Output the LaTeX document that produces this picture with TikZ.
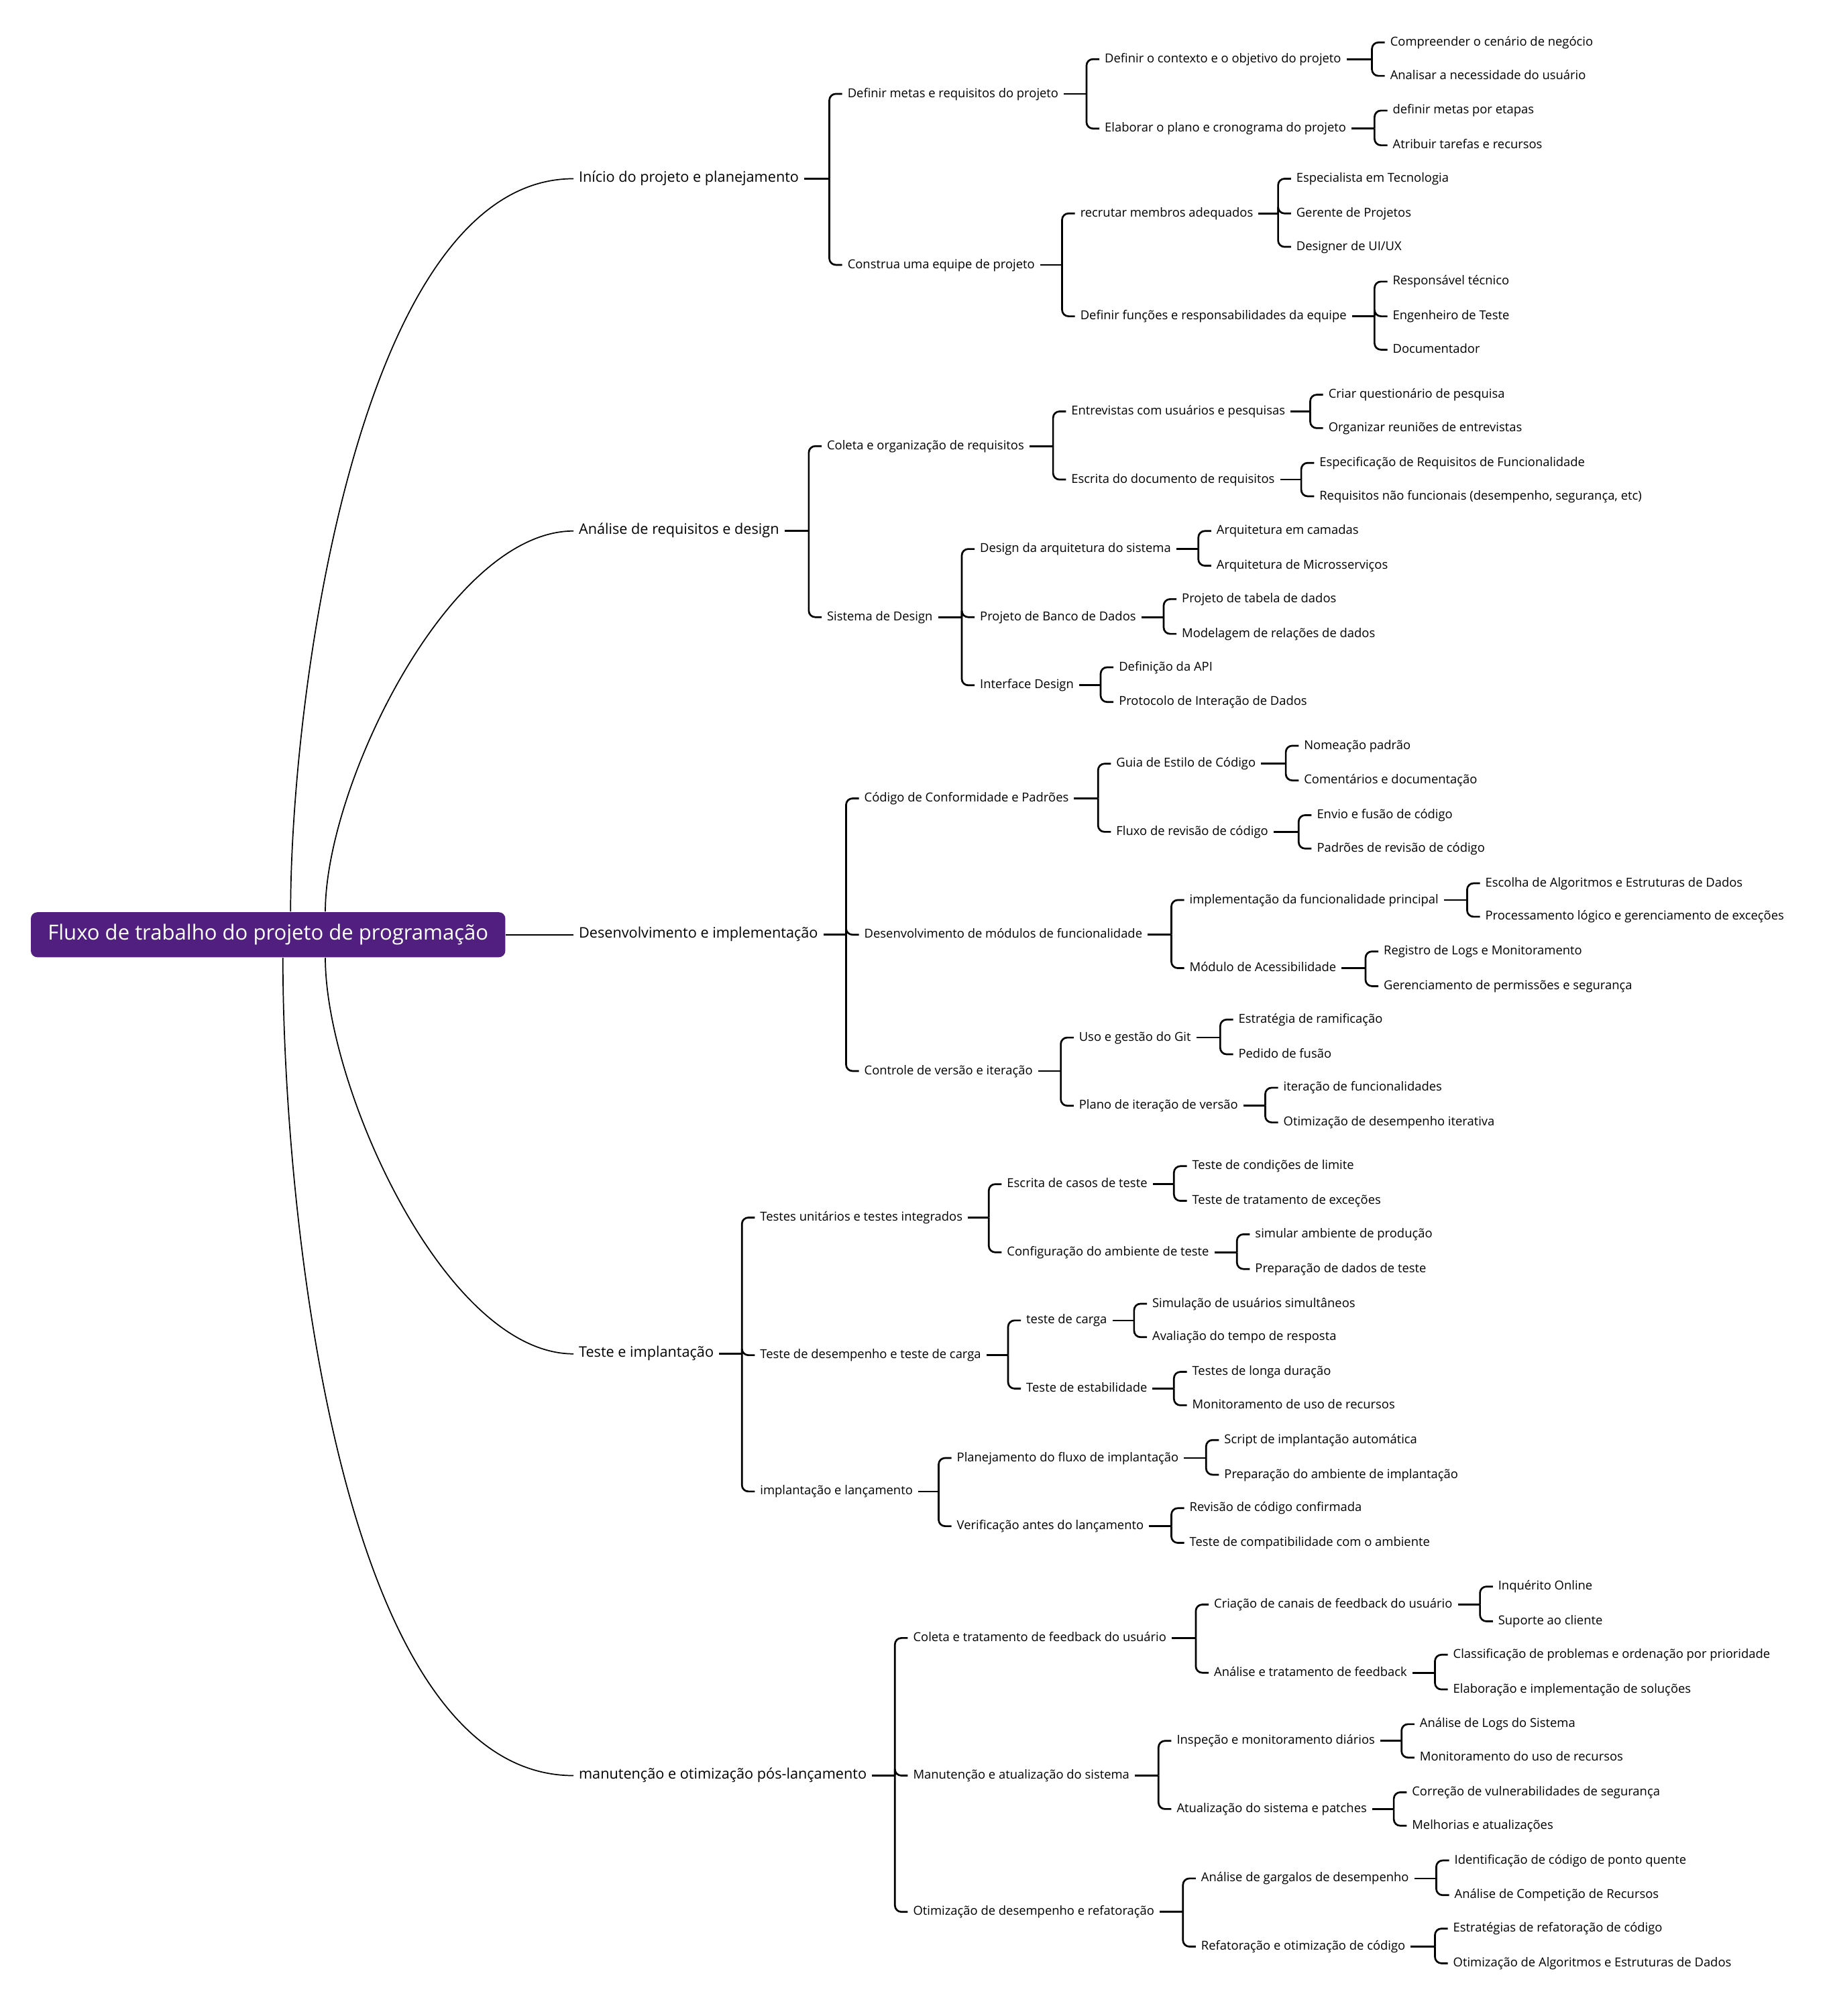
\documentclass[tikz,border=0pt]{standalone}
\usepackage{fontspec}
\setmainfont{Open Sans}
\usepackage{tikz}
\usetikzlibrary{calc}
\definecolor{rootpurple}{RGB}{81,31,128}
\tikzset{
  rootbox/.style={
    rectangle,
    fill=rootpurple,
    text=white,
    rounded corners=5pt,
    minimum width=369pt,
    minimum height=35pt,
    inner sep=0pt,
    font=\fontsize{16.2}{19}\selectfont
  },
  topic/.style={
    anchor=west,
    xshift=-4pt,
    inner xsep=4pt,
    inner ysep=1pt,
    text height=0.75em,
    text depth=0.22em,
    font=\fontsize{11.3}{13}\selectfont
  },
  item/.style={
    topic,
    font=\fontsize{9.6}{11}\selectfont
  },
  trunk/.style={
    line width=0.9pt,
    black
  },
  bracket/.style={
    line width=1.4pt,
    black
  }
}
% fork from a parent to its children; the column sits just left of the first child
\newcommand{\branch}[3]{%
  \coordinate (#1-fork) at ($(#2.west |- #1.east)+(-10pt,0)$);
  \draw[bracket] (#1.east) -- (#1-fork);
  \foreach \kid in {#3}
    \draw[bracket, rounded corners=5pt] (#1-fork) |- (\kid.west);
}

\begin{document}
\begin{tikzpicture}[x=1pt,y=-1pt]
  \useasboundingbox (0,0) rectangle (1422,1568);

  % main topics
  \node[topic] (A) at (450,139) {Início do projeto e planejamento};
  \node[topic] (B) at (450,413) {Análise de requisitos e design};
  \node[topic] (C) at (450,727) {Desenvolvimento e implementação};
  \node[topic] (D) at (450,1053) {Teste e implantação};
  \node[topic] (E) at (450,1381) {manutenção e otimização pós-lançamento};

  % curves out of the root (drawn first, the root box covers their ends)
  \coordinate (R-top) at (208.5,709);
  \coordinate (R-bot) at (208.5,745);
  \draw[trunk] ([xshift=17.5pt]R-top) .. controls +(0,-167) and +(-167,0) .. (A.west);
  \draw[trunk] ([xshift=44.5pt]R-top) .. controls +(0,-97) and +(-97,0) .. (B.west);
  \draw[trunk] ([xshift=44.5pt]R-bot) .. controls +(0,100) and +(-100,0) .. (D.west);
  \draw[trunk] ([xshift=11.5pt]R-bot) .. controls +(0,185) and +(-185,0) .. (E.west);

  \node[rootbox] (R) at (208.5,727) {Fluxo de trabalho do projeto de programação};
  \draw[trunk] (R.east) -- (C.west);

  % Inicio do projeto
  \node[item] (A-1) at (659,73) {Definir metas e requisitos do projeto};
  \node[item] (A-1-1) at (859,46) {Definir o contexto e o objetivo do projeto};
  \node[item] (A-1-1-a) at (1081,33) {Compreender o cenário de negócio};
  \node[item] (A-1-1-b) at (1081,59) {Analisar a necessidade do usuário};
  \node[item] (A-1-2) at (859,100) {Elaborar o plano e cronograma do projeto};
  \node[item] (A-1-2-a) at (1083,86) {definir metas por etapas};
  \node[item] (A-1-2-b) at (1083,113) {Atribuir tarefas e recursos};
  \node[item] (A-2) at (659,206) {Construa uma equipe de projeto};
  \node[item] (A-2-1) at (840,166) {recrutar membros adequados};
  \node[item] (A-2-1-a) at (1008,139) {Especialista em Tecnologia};
  \node[item] (A-2-1-b) at (1008,166) {Gerente de Projetos};
  \node[item] (A-2-1-c) at (1008,192) {Designer de UI/UX};
  \node[item] (A-2-2) at (840,246) {Definir funções e responsabilidades da equipe};
  \node[item] (A-2-2-a) at (1083,219) {Responsável técnico};
  \node[item] (A-2-2-b) at (1083,246) {Engenheiro de Teste};
  \node[item] (A-2-2-c) at (1083,272) {Documentador};
  \branch{A}{A-1}{A-1,A-2}
  \branch{A-1}{A-1-1}{A-1-1,A-1-2}
  \branch{A-1-1}{A-1-1-a}{A-1-1-a,A-1-1-b}
  \branch{A-1-2}{A-1-2-a}{A-1-2-a,A-1-2-b}
  \branch{A-2}{A-2-1}{A-2-1,A-2-2}
  \branch{A-2-1}{A-2-1-a}{A-2-1-a,A-2-1-b,A-2-1-c}
  \branch{A-2-2}{A-2-2-a}{A-2-2-a,A-2-2-b,A-2-2-c}

  % Analise e design
  \node[item] (B-1) at (643,347) {Coleta e organização de requisitos};
  \node[item] (B-1-1) at (833,320) {Entrevistas com usuários e pesquisas};
  \node[item] (B-1-1-a) at (1033,307) {Criar questionário de pesquisa};
  \node[item] (B-1-1-b) at (1033,333) {Organizar reuniões de entrevistas};
  \node[item] (B-1-2) at (833,373) {Escrita do documento de requisitos};
  \node[item] (B-1-2-a) at (1026,360) {Especificação de Requisitos de Funcionalidade};
  \node[item] (B-1-2-b) at (1026,386) {Requisitos não funcionais (desempenho, segurança, etc)};
  \node[item] (B-2) at (643,480) {Sistema de Design};
  \node[item] (B-2-1) at (762,427) {Design da arquitetura do sistema};
  \node[item] (B-2-1-a) at (946,413) {Arquitetura em camadas};
  \node[item] (B-2-1-b) at (946,440) {Arquitetura de Microsserviços};
  \node[item] (B-2-2) at (762,480) {Projeto de Banco de Dados};
  \node[item] (B-2-2-a) at (919,466) {Projeto de tabela de dados};
  \node[item] (B-2-2-b) at (919,493) {Modelagem de relações de dados};
  \node[item] (B-2-3) at (762,533) {Interface Design};
  \node[item] (B-2-3-a) at (870,519) {Definição da API};
  \node[item] (B-2-3-b) at (870,546) {Protocolo de Interação de Dados};
  \branch{B}{B-1}{B-1,B-2}
  \branch{B-1}{B-1-1}{B-1-1,B-1-2}
  \branch{B-1-1}{B-1-1-a}{B-1-1-a,B-1-1-b}
  \branch{B-1-2}{B-1-2-a}{B-1-2-a,B-1-2-b}
  \branch{B-2}{B-2-1}{B-2-1,B-2-2,B-2-3}
  \branch{B-2-1}{B-2-1-a}{B-2-1-a,B-2-1-b}
  \branch{B-2-2}{B-2-2-a}{B-2-2-a,B-2-2-b}
  \branch{B-2-3}{B-2-3-a}{B-2-3-a,B-2-3-b}

  % Desenvolvimento
  \node[item] (C-1) at (672,621) {Código de Conformidade e Padrões};
  \node[item] (C-1-1) at (868,594) {Guia de Estilo de Código};
  \node[item] (C-1-1-a) at (1014,580) {Nomeação padrão};
  \node[item] (C-1-1-b) at (1014,607) {Comentários e documentação};
  \node[item] (C-1-2) at (868,647) {Fluxo de revisão de código};
  \node[item] (C-1-2-a) at (1024,634) {Envio e fusão de código};
  \node[item] (C-1-2-b) at (1024,660) {Padrões de revisão de código};
  \node[item] (C-2) at (672,727) {Desenvolvimento de módulos de funcionalidade};
  \node[item] (C-2-1) at (925,700) {implementação da funcionalidade principal};
  \node[item] (C-2-1-a) at (1155,687) {Escolha de Algoritmos e Estruturas de Dados};
  \node[item] (C-2-1-b) at (1155,713) {Processamento lógico e gerenciamento de exceções};
  \node[item] (C-2-2) at (925,753) {Módulo de Acessibilidade};
  \node[item] (C-2-2-a) at (1076,740) {Registro de Logs e Monitoramento};
  \node[item] (C-2-2-b) at (1076,767) {Gerenciamento de permissões e segurança};
  \node[item] (C-3) at (672,833) {Controle de versão e iteração};
  \node[item] (C-3-1) at (839,807) {Uso e gestão do Git};
  \node[item] (C-3-1-a) at (963,793) {Estratégia de ramificação};
  \node[item] (C-3-1-b) at (963,820) {Pedido de fusão};
  \node[item] (C-3-2) at (839,860) {Plano de iteração de versão};
  \node[item] (C-3-2-a) at (998,846) {iteração de funcionalidades};
  \node[item] (C-3-2-b) at (998,873) {Otimização de desempenho iterativa};
  \branch{C}{C-1}{C-1,C-2,C-3}
  \branch{C-1}{C-1-1}{C-1-1,C-1-2}
  \branch{C-1-1}{C-1-1-a}{C-1-1-a,C-1-1-b}
  \branch{C-1-2}{C-1-2-a}{C-1-2-a,C-1-2-b}
  \branch{C-2}{C-2-1}{C-2-1,C-2-2}
  \branch{C-2-1}{C-2-1-a}{C-2-1-a,C-2-1-b}
  \branch{C-2-2}{C-2-2-a}{C-2-2-a,C-2-2-b}
  \branch{C-3}{C-3-1}{C-3-1,C-3-2}
  \branch{C-3-1}{C-3-1-a}{C-3-1-a,C-3-1-b}
  \branch{C-3-2}{C-3-2-a}{C-3-2-a,C-3-2-b}

  % Teste e implantacao
  \node[item] (D-1) at (591,947) {Testes unitários e testes integrados};
  \node[item] (D-1-1) at (783,921) {Escrita de casos de teste};
  \node[item] (D-1-1-a) at (927,907) {Teste de condições de limite};
  \node[item] (D-1-1-b) at (927,934) {Teste de tratamento de exceções};
  \node[item] (D-1-2) at (783,974) {Configuração do ambiente de teste};
  \node[item] (D-1-2-a) at (976,960) {simular ambiente de produção};
  \node[item] (D-1-2-b) at (976,987) {Preparação de dados de teste};
  \node[item] (D-2) at (591,1054) {Teste de desempenho e teste de carga};
  \node[item] (D-2-1) at (798,1027) {teste de carga};
  \node[item] (D-2-1-a) at (896,1014) {Simulação de usuários simultâneos};
  \node[item] (D-2-1-b) at (896,1040) {Avaliação do tempo de resposta};
  \node[item] (D-2-2) at (798,1080) {Teste de estabilidade};
  \node[item] (D-2-2-a) at (927,1067) {Testes de longa duração};
  \node[item] (D-2-2-b) at (927,1093) {Monitoramento de uso de recursos};
  \node[item] (D-3) at (591,1160) {implantação e lançamento};
  \node[item] (D-3-1) at (744,1134) {Planejamento do fluxo de implantação};
  \node[item] (D-3-1-a) at (952,1120) {Script de implantação automática};
  \node[item] (D-3-1-b) at (952,1147) {Preparação do ambiente de implantação};
  \node[item] (D-3-2) at (744,1187) {Verificação antes do lançamento};
  \node[item] (D-3-2-a) at (925,1173) {Revisão de código confirmada};
  \node[item] (D-3-2-b) at (925,1200) {Teste de compatibilidade com o ambiente};
  \branch{D}{D-1}{D-1,D-2,D-3}
  \branch{D-1}{D-1-1}{D-1-1,D-1-2}
  \branch{D-1-1}{D-1-1-a}{D-1-1-a,D-1-1-b}
  \branch{D-1-2}{D-1-2-a}{D-1-2-a,D-1-2-b}
  \branch{D-2}{D-2-1}{D-2-1,D-2-2}
  \branch{D-2-1}{D-2-1-a}{D-2-1-a,D-2-1-b}
  \branch{D-2-2}{D-2-2-a}{D-2-2-a,D-2-2-b}
  \branch{D-3}{D-3-1}{D-3-1,D-3-2}
  \branch{D-3-1}{D-3-1-a}{D-3-1-a,D-3-1-b}
  \branch{D-3-2}{D-3-2-a}{D-3-2-a,D-3-2-b}

  % Manutencao
  \node[item] (E-1) at (710,1274) {Coleta e tratamento de feedback do usuário};
  \node[item] (E-1-1) at (944,1248) {Criação de canais de feedback do usuário};
  \node[item] (E-1-1-a) at (1165,1234) {Inquérito Online};
  \node[item] (E-1-1-b) at (1165,1261) {Suporte ao cliente};
  \node[item] (E-1-2) at (944,1301) {Análise e tratamento de feedback};
  \node[item] (E-1-2-a) at (1130,1287) {Classificação de problemas e ordenação por prioridade};
  \node[item] (E-1-2-b) at (1130,1314) {Elaboração e implementação de soluções};
  \node[item] (E-2) at (710,1381) {Manutenção e atualização do sistema};
  \node[item] (E-2-1) at (915,1354) {Inspeção e monitoramento diários};
  \node[item] (E-2-1-a) at (1104,1341) {Análise de Logs do Sistema};
  \node[item] (E-2-1-b) at (1104,1367) {Monitoramento do uso de recursos};
  \node[item] (E-2-2) at (915,1407) {Atualização do sistema e patches};
  \node[item] (E-2-2-a) at (1098,1394) {Correção de vulnerabilidades de segurança};
  \node[item] (E-2-2-b) at (1098,1420) {Melhorias e atualizações};
  \node[item] (E-3) at (710,1487) {Otimização de desempenho e refatoração};
  \node[item] (E-3-1) at (934,1461) {Análise de gargalos de desempenho};
  \node[item] (E-3-1-a) at (1131,1447) {Identificação de código de ponto quente};
  \node[item] (E-3-1-b) at (1131,1474) {Análise de Competição de Recursos};
  \node[item] (E-3-2) at (934,1514) {Refatoração e otimização de código};
  \node[item] (E-3-2-a) at (1130,1500) {Estratégias de refatoração de código};
  \node[item] (E-3-2-b) at (1130,1527) {Otimização de Algoritmos e Estruturas de Dados};
  \branch{E}{E-1}{E-1,E-2,E-3}
  \branch{E-1}{E-1-1}{E-1-1,E-1-2}
  \branch{E-1-1}{E-1-1-a}{E-1-1-a,E-1-1-b}
  \branch{E-1-2}{E-1-2-a}{E-1-2-a,E-1-2-b}
  \branch{E-2}{E-2-1}{E-2-1,E-2-2}
  \branch{E-2-1}{E-2-1-a}{E-2-1-a,E-2-1-b}
  \branch{E-2-2}{E-2-2-a}{E-2-2-a,E-2-2-b}
  \branch{E-3}{E-3-1}{E-3-1,E-3-2}
  \branch{E-3-1}{E-3-1-a}{E-3-1-a,E-3-1-b}
  \branch{E-3-2}{E-3-2-a}{E-3-2-a,E-3-2-b}
\end{tikzpicture}
\end{document}
